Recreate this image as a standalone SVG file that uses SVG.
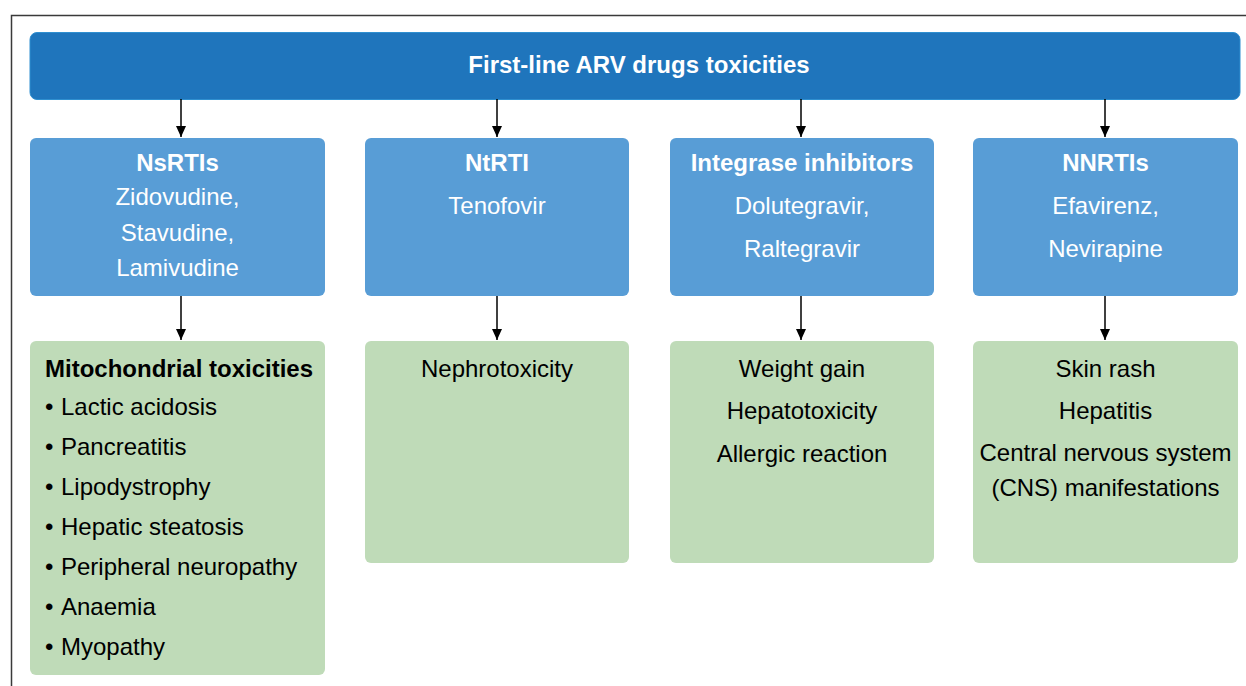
<svg xmlns="http://www.w3.org/2000/svg" width="1246" height="686" viewBox="0 0 1246 686">
  <defs>
    <marker id="arrow" markerWidth="11" markerHeight="10" refX="11" refY="5" orient="auto" markerUnits="userSpaceOnUse" viewBox="0 0 11 10">
      <path d="M0,0 L11,5 L0,10 Z" fill="#000"/>
    </marker>
  </defs>
  <style>
    text { font-family: "Liberation Sans", Arial, sans-serif; font-size: 24px; }
    .hdr { fill: #1f75bc; stroke: #2f8fd0; stroke-width: 1; }
    .cls { fill: #589dd6; }
    .tox { fill: #bfdbb8; }
    .w { fill: #fff; text-anchor: middle; }
    .b { font-weight: bold; }
    .k { fill: #000; }
    .c { text-anchor: middle; }
    .conn line { stroke: #000; stroke-width: 1.5; marker-end: url(#arrow); }
  </style>

  <rect width="1246" height="686" fill="#fff"/>
  <!-- outer frame -->
  <path d="M11.5,700 L11.5,15.5 L1260,15.5" fill="none" stroke="#3a3a3a" stroke-width="1.5"/>

  <g id="header">
    <rect class="hdr" x="30" y="32.5" width="1210" height="67" rx="7"/>
    <text class="w b" x="639" y="73">First-line ARV drugs toxicities</text>
  </g>

  <g id="nsrti">
    <rect class="cls" x="30" y="138" width="295" height="158" rx="6"/>
    <text class="w b" x="177.5" y="171">NsRTIs</text>
    <text class="w" x="177.5" y="205">Zidovudine,</text>
    <text class="w" x="177.5" y="241">Stavudine,</text>
    <text class="w" x="177.5" y="276">Lamivudine</text>
  </g>

  <g id="ntrti">
    <rect class="cls" x="365" y="138" width="264" height="158" rx="6"/>
    <text class="w b" x="497" y="171">NtRTI</text>
    <text class="w" x="497" y="214">Tenofovir</text>
  </g>

  <g id="integrase">
    <rect class="cls" x="670" y="138" width="264" height="158" rx="6"/>
    <text class="w b" x="802" y="171">Integrase inhibitors</text>
    <text class="w" x="802" y="214">Dolutegravir,</text>
    <text class="w" x="802" y="257">Raltegravir</text>
  </g>

  <g id="nnrti">
    <rect class="cls" x="973" y="138" width="265" height="158" rx="6"/>
    <text class="w b" x="1105.5" y="171">NNRTIs</text>
    <text class="w" x="1105.5" y="214">Efavirenz,</text>
    <text class="w" x="1105.5" y="257">Nevirapine</text>
  </g>

  <g id="nsrti-tox">
    <rect class="tox" x="30" y="341" width="295" height="334" rx="6"/>
    <text class="k b" x="45" y="377">Mitochondrial toxicities</text>
    <text class="k" y="415"><tspan x="45">•</tspan><tspan x="61">Lactic acidosis</tspan></text>
    <text class="k" y="455"><tspan x="45">•</tspan><tspan x="61">Pancreatitis</tspan></text>
    <text class="k" y="495"><tspan x="45">•</tspan><tspan x="61">Lipodystrophy</tspan></text>
    <text class="k" y="535"><tspan x="45">•</tspan><tspan x="61">Hepatic steatosis</tspan></text>
    <text class="k" y="575"><tspan x="45">•</tspan><tspan x="61">Peripheral neuropathy</tspan></text>
    <text class="k" y="615"><tspan x="45">•</tspan><tspan x="61">Anaemia</tspan></text>
    <text class="k" y="655"><tspan x="45">•</tspan><tspan x="61">Myopathy</tspan></text>
  </g>

  <g id="ntrti-tox">
    <rect class="tox" x="365" y="341" width="264" height="222" rx="6"/>
    <text class="k c" x="497" y="377">Nephrotoxicity</text>
  </g>

  <g id="integrase-tox">
    <rect class="tox" x="670" y="341" width="264" height="222" rx="6"/>
    <text class="k c" x="802" y="377">Weight gain</text>
    <text class="k c" x="802" y="419">Hepatotoxicity</text>
    <text class="k c" x="802" y="462">Allergic reaction</text>
  </g>

  <g id="nnrti-tox">
    <rect class="tox" x="973" y="341" width="265" height="222" rx="6"/>
    <text class="k c" x="1105.5" y="377">Skin rash</text>
    <text class="k c" x="1105.5" y="419">Hepatitis</text>
    <text class="k c" x="1105.5" y="461">Central nervous system</text>
    <text class="k c" x="1105.5" y="496">(CNS) manifestations</text>
  </g>

  <g id="connectors" class="conn">
    <line x1="181" y1="99" x2="181" y2="137"/>
    <line x1="497" y1="99" x2="497" y2="137"/>
    <line x1="801" y1="99" x2="801" y2="137"/>
    <line x1="1105" y1="99" x2="1105" y2="137"/>
    <line x1="181" y1="296" x2="181" y2="340"/>
    <line x1="497" y1="296" x2="497" y2="340"/>
    <line x1="801" y1="296" x2="801" y2="340"/>
    <line x1="1105" y1="296" x2="1105" y2="340"/>
  </g>
</svg>
